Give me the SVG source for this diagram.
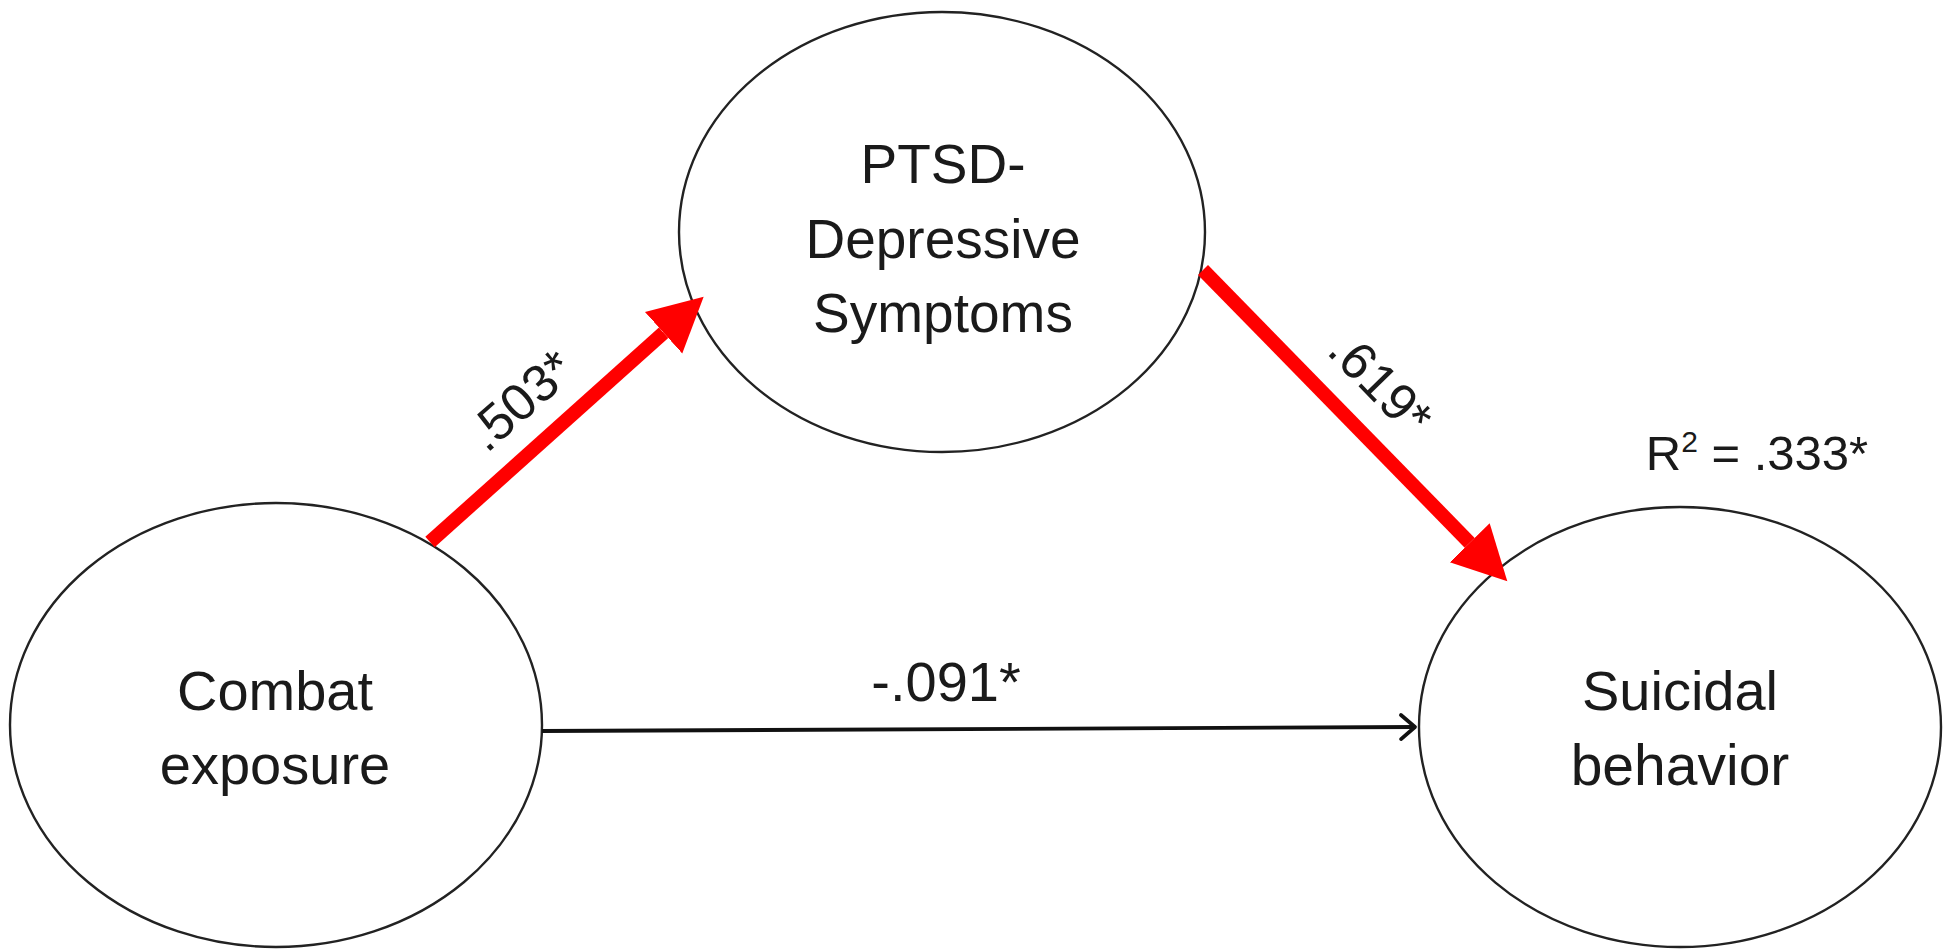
<svg xmlns="http://www.w3.org/2000/svg" width="1944" height="949" viewBox="0 0 1944 949">
<style>
.node{fill:#fff;stroke:#222;stroke-width:2.4}
.nt{font-family:"Liberation Sans",Arial,sans-serif;font-size:55px;fill:#1a1a1a;text-anchor:middle}
.lb{font-family:"Liberation Sans",Arial,sans-serif;font-size:52px;fill:#1a1a1a;text-anchor:middle}
.red{stroke:#ff0000;stroke-width:14;fill:none}
.blk{stroke:#111;stroke-width:3.8;fill:none}
</style>
<defs>
<marker id="redHead" markerUnits="userSpaceOnUse" markerWidth="60" markerHeight="64" viewBox="0 -30 58 60" refX="0" refY="0" orient="auto">
<path d="M0,-27 L52,0 L0,27 z" fill="#ff0000"/>
</marker>
<marker id="openHead" markerUnits="userSpaceOnUse" markerWidth="24" markerHeight="30" viewBox="-18 -15 22 30" refX="0" refY="0" orient="auto">
<path d="M-14,-12 L0,0 L-14,12" fill="none" stroke="#111" stroke-width="3.8" stroke-linecap="round" stroke-linejoin="round"/>
</marker>
</defs>
<rect width="1944" height="949" fill="#fff"/>
<g id="node-ptsd">
<ellipse class="node" cx="942" cy="232" rx="263" ry="220"/>
<text class="nt" x="943" y="183">PTSD-</text>
<text class="nt" x="943" y="258">Depressive</text>
<text class="nt" x="943" y="332">Symptoms</text>
</g>
<g id="node-combat">
<ellipse class="node" cx="276" cy="725" rx="266" ry="222"/>
<text class="nt" x="275" y="710" style="font-size:56px">Combat</text>
<text class="nt" x="275" y="784" style="font-size:56px">exposure</text>
</g>
<g id="node-suicidal">
<ellipse class="node" cx="1680" cy="727" rx="261" ry="220"/>
<text class="nt" x="1680" y="710" style="font-size:56px">Suicidal</text>
<text class="nt" x="1680" y="785" style="font-size:57px">behavior</text>
<text class="lb" x="1757" y="470" style="font-size:49px">R<tspan style="font-size:30px" dy="-18">2</tspan><tspan dy="18"> = .333*</tspan></text>
</g>
<g id="connectors">
<line class="red" x1="430" y1="542" x2="663.6" y2="332.7" marker-end="url(#redHead)"/>
<line class="red" x1="1203" y1="270" x2="1469.7" y2="542.8" marker-end="url(#redHead)"/>
<line class="blk" x1="542" y1="731" x2="1415" y2="727" marker-end="url(#openHead)"/>
<text class="lb" transform="translate(521,401) rotate(-41.4)" y="17">.503*</text>
<text class="lb" transform="translate(1380,384) rotate(45.7)" y="17">.619*</text>
<text class="lb" x="946" y="701" style="font-size:56px">-.091*</text>
</g>
</svg>
